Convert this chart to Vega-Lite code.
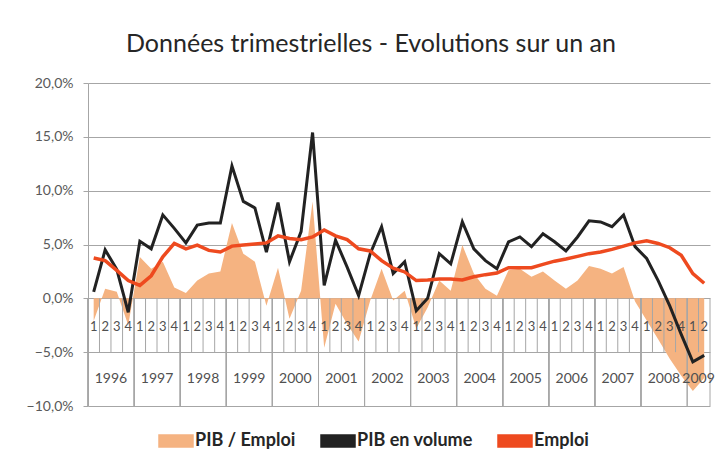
{
  "$schema": "https://vega.github.io/schema/vega-lite/v6.json",
  "width": 622,
  "height": 323,
  "autosize": {"type": "none"},
  "padding": {"left": 88, "top": 83, "right": 7, "bottom": 63},
  "background": "white",
  "title": {
    "text": "Données trimestrielles - Evolutions sur un an",
    "font": "Lato",
    "fontSize": 25,
    "fontWeight": "normal",
    "color": "#262626",
    "anchor": "middle",
    "dx": -28,
    "dy": 31,
    "offset": 30,
    "baseline": "alphabetic"
  },
  "config": {"view": {"stroke": null}, "font": "Lato"},
  "data": {
    "format": {"parse": {"date": "date"}},
    "values": [
      {"date": "1996-02-15", "year": "1996", "q": "1", "pib": 0.6, "emploi": 3.75, "ratio": -2.1},
      {"date": "1996-05-16", "year": "1996", "q": "2", "pib": 4.5, "emploi": 3.5, "ratio": 0.9},
      {"date": "1996-08-16", "year": "1996", "q": "3", "pib": 2.7, "emploi": 2.6, "ratio": 0.6},
      {"date": "1996-11-15", "year": "1996", "q": "4", "pib": -1.3, "emploi": 1.65, "ratio": -2.5},
      {"date": "1997-02-15", "year": "1997", "q": "1", "pib": 5.3, "emploi": 1.2, "ratio": 3.85},
      {"date": "1997-05-16", "year": "1997", "q": "2", "pib": 4.6, "emploi": 2.1, "ratio": 2.75},
      {"date": "1997-08-16", "year": "1997", "q": "3", "pib": 7.75, "emploi": 3.85, "ratio": 3.4},
      {"date": "1997-11-15", "year": "1997", "q": "4", "pib": 6.5, "emploi": 5.1, "ratio": 1.0},
      {"date": "1998-02-15", "year": "1998", "q": "1", "pib": 5.15, "emploi": 4.6, "ratio": 0.5},
      {"date": "1998-05-16", "year": "1998", "q": "2", "pib": 6.8, "emploi": 4.95, "ratio": 1.65},
      {"date": "1998-08-16", "year": "1998", "q": "3", "pib": 7.0, "emploi": 4.45, "ratio": 2.3},
      {"date": "1998-11-15", "year": "1998", "q": "4", "pib": 7.0, "emploi": 4.3, "ratio": 2.5},
      {"date": "1999-02-15", "year": "1999", "q": "1", "pib": 12.3, "emploi": 4.85, "ratio": 7.0},
      {"date": "1999-05-16", "year": "1999", "q": "2", "pib": 9.0, "emploi": 4.95, "ratio": 4.15},
      {"date": "1999-08-16", "year": "1999", "q": "3", "pib": 8.4, "emploi": 5.05, "ratio": 3.4},
      {"date": "1999-11-15", "year": "1999", "q": "4", "pib": 4.3, "emploi": 5.15, "ratio": -0.7},
      {"date": "2000-02-15", "year": "2000", "q": "1", "pib": 8.9, "emploi": 5.8, "ratio": 2.85},
      {"date": "2000-05-16", "year": "2000", "q": "2", "pib": 3.4, "emploi": 5.55, "ratio": -1.9},
      {"date": "2000-08-16", "year": "2000", "q": "3", "pib": 6.2, "emploi": 5.45, "ratio": 0.7},
      {"date": "2000-11-15", "year": "2000", "q": "4", "pib": 15.4, "emploi": 5.7, "ratio": 9.0},
      {"date": "2001-02-15", "year": "2001", "q": "1", "pib": 1.2, "emploi": 6.35, "ratio": -4.6},
      {"date": "2001-05-16", "year": "2001", "q": "2", "pib": 5.4, "emploi": 5.8, "ratio": -0.5},
      {"date": "2001-08-16", "year": "2001", "q": "3", "pib": 2.9, "emploi": 5.45, "ratio": -2.4},
      {"date": "2001-11-15", "year": "2001", "q": "4", "pib": 0.25, "emploi": 4.6, "ratio": -4.0},
      {"date": "2002-02-15", "year": "2002", "q": "1", "pib": 4.15, "emploi": 4.4, "ratio": -0.2},
      {"date": "2002-05-16", "year": "2002", "q": "2", "pib": 6.65, "emploi": 3.5, "ratio": 2.75},
      {"date": "2002-08-16", "year": "2002", "q": "3", "pib": 2.3, "emploi": 2.8, "ratio": -0.2},
      {"date": "2002-11-15", "year": "2002", "q": "4", "pib": 3.4, "emploi": 2.45, "ratio": 0.7},
      {"date": "2003-02-15", "year": "2003", "q": "1", "pib": -1.15, "emploi": 1.65, "ratio": -2.8},
      {"date": "2003-05-16", "year": "2003", "q": "2", "pib": 0.0, "emploi": 1.7, "ratio": -0.85},
      {"date": "2003-08-16", "year": "2003", "q": "3", "pib": 4.15, "emploi": 1.8, "ratio": 1.65},
      {"date": "2003-11-15", "year": "2003", "q": "4", "pib": 3.2, "emploi": 1.8, "ratio": 0.7},
      {"date": "2004-02-15", "year": "2004", "q": "1", "pib": 7.1, "emploi": 1.7, "ratio": 4.95},
      {"date": "2004-05-16", "year": "2004", "q": "2", "pib": 4.6, "emploi": 2.0, "ratio": 2.3},
      {"date": "2004-08-16", "year": "2004", "q": "3", "pib": 3.5, "emploi": 2.2, "ratio": 0.9},
      {"date": "2004-11-15", "year": "2004", "q": "4", "pib": 2.75, "emploi": 2.35, "ratio": 0.25},
      {"date": "2005-02-15", "year": "2005", "q": "1", "pib": 5.25, "emploi": 2.85, "ratio": 2.6},
      {"date": "2005-05-16", "year": "2005", "q": "2", "pib": 5.7, "emploi": 2.85, "ratio": 2.75},
      {"date": "2005-08-16", "year": "2005", "q": "3", "pib": 4.8, "emploi": 2.85, "ratio": 2.0},
      {"date": "2005-11-15", "year": "2005", "q": "4", "pib": 6.0, "emploi": 3.15, "ratio": 2.5},
      {"date": "2006-02-15", "year": "2006", "q": "1", "pib": 5.25, "emploi": 3.45, "ratio": 1.65},
      {"date": "2006-05-16", "year": "2006", "q": "2", "pib": 4.4, "emploi": 3.65, "ratio": 0.9},
      {"date": "2006-08-16", "year": "2006", "q": "3", "pib": 5.7, "emploi": 3.9, "ratio": 1.65},
      {"date": "2006-11-15", "year": "2006", "q": "4", "pib": 7.2, "emploi": 4.15, "ratio": 3.0},
      {"date": "2007-02-15", "year": "2007", "q": "1", "pib": 7.1, "emploi": 4.3, "ratio": 2.75},
      {"date": "2007-05-16", "year": "2007", "q": "2", "pib": 6.65, "emploi": 4.55, "ratio": 2.3},
      {"date": "2007-08-16", "year": "2007", "q": "3", "pib": 7.75, "emploi": 4.85, "ratio": 2.9},
      {"date": "2007-11-15", "year": "2007", "q": "4", "pib": 4.8, "emploi": 5.15, "ratio": -0.3},
      {"date": "2008-02-15", "year": "2008", "q": "1", "pib": 3.7, "emploi": 5.35, "ratio": -2.05},
      {"date": "2008-05-16", "year": "2008", "q": "2", "pib": 1.65, "emploi": 5.1, "ratio": -3.8},
      {"date": "2008-08-16", "year": "2008", "q": "3", "pib": -0.7, "emploi": 4.7, "ratio": -5.6},
      {"date": "2008-11-15", "year": "2008", "q": "4", "pib": -3.35, "emploi": 4.0, "ratio": -7.2},
      {"date": "2009-02-15", "year": "2009", "q": "1", "pib": -5.9, "emploi": 2.3, "ratio": -8.6},
      {"date": "2009-05-16", "year": "2009", "q": "2", "pib": -5.3, "emploi": 1.4, "ratio": -7.4}
    ]
  },
  "layer": [
    {
      "mark": {"type": "area", "opacity": 1},
      "encoding": {
        "x": {
          "field": "date",
          "type": "temporal",
          "scale": {"domain": [{"year": 1996, "month": 1, "date": 1}, {"year": 2009, "month": 7, "date": 1}]},
          "axis": null
        },
        "y": {
          "field": "ratio",
          "type": "quantitative",
          "scale": {"domain": [-10, 20], "nice": false},
          "axis": {
            "values": [-10, -5, 0, 5, 10, 15, 20],
            "labelExpr": "replace(format(datum.value, '.1f'), '.', ',') + '%'",
            "title": null,
            "grid": true,
            "gridColor": "#A6A6A6",
            "gridWidth": 1,
            "domainColor": "#A6A6A6",
            "tickColor": "#A6A6A6",
            "tickSize": 5,
            "labelFont": "Lato",
            "labelFontSize": 14,
            "labelColor": "#595959",
            "labelPadding": 10
          }
        },
        "color": {
          "datum": "PIB / Emploi",
          "type": "nominal",
          "scale": {
            "domain": ["PIB / Emploi", "PIB en volume", "Emploi"],
            "range": ["#F5B381", "#222222", "#EE4A1F"]
          },
          "legend": {
            "orient": "none",
            "legendX": 70,
            "legendY": 340,
            "direction": "horizontal",
            "title": null,
            "symbolSize": 1156,
            "symbolType": "M-1,-0.35H1V0.35H-1Z",
            "labelFont": "Lato",
            "labelFontSize": 18,
            "labelFontWeight": "bold",
            "labelColor": "#262626",
            "labelOffset": 1,
            "columnPadding": 22,
            "encode": {
              "symbols": {
                "update": {
                  "shape": {"signal": "datum.value === 'PIB / Emploi' ? 'M-1,-0.35H1V0.35H-1Z' : 'M-1,-0.09H1V0.09H-1Z'"},
                  "fill": {"signal": "scale('color', datum.value)"},
                  "stroke": {"value": "transparent"},
                  "opacity": {"value": 1},
                  "fillOpacity": {"value": 1}
                }
              }
            }
          }
        }
      }
    },
    {
      "mark": {"type": "rule", "color": "#A6A6A6", "strokeWidth": 1},
      "encoding": {
        "x": {"field": "date", "timeUnit": "yearquarter", "type": "temporal"},
        "y": {"datum": 0},
        "y2": {"datum": -5}
      }
    },
    {
      "mark": {"type": "rule", "color": "#A6A6A6", "strokeWidth": 1},
      "encoding": {
        "x": {"field": "date", "timeUnit": "year", "type": "temporal"},
        "y": {"datum": 0},
        "y2": {"datum": -10}
      }
    },
    {
      "data": {"values": [{}]},
      "mark": {"type": "rule", "color": "#A6A6A6", "strokeWidth": 1},
      "encoding": {
        "x": {"datum": {"year": 2009, "month": 7, "date": 1}, "type": "temporal"},
        "y": {"datum": 0},
        "y2": {"datum": -10}
      }
    },
    {
      "mark": {"type": "text", "fontSize": 13, "color": "#505050", "font": "Lato"},
      "encoding": {
        "x": {"field": "date", "type": "temporal"},
        "y": {"datum": -2.7},
        "text": {"field": "q", "type": "nominal"}
      }
    },
    {
      "mark": {"type": "text", "fontSize": 14, "color": "#505050", "font": "Lato"},
      "encoding": {
        "x": {"field": "date", "aggregate": "mean", "type": "temporal"},
        "y": {"datum": -7.5},
        "text": {"field": "year", "type": "nominal"}
      }
    },
    {
      "mark": {"type": "line", "strokeWidth": 3},
      "encoding": {
        "x": {"field": "date", "type": "temporal"},
        "y": {"field": "pib", "type": "quantitative"},
        "color": {"datum": "PIB en volume", "type": "nominal"}
      }
    },
    {
      "mark": {"type": "line", "strokeWidth": 3.5},
      "encoding": {
        "x": {"field": "date", "type": "temporal"},
        "y": {"field": "emploi", "type": "quantitative"},
        "color": {"datum": "Emploi", "type": "nominal"}
      }
    }
  ]
}
